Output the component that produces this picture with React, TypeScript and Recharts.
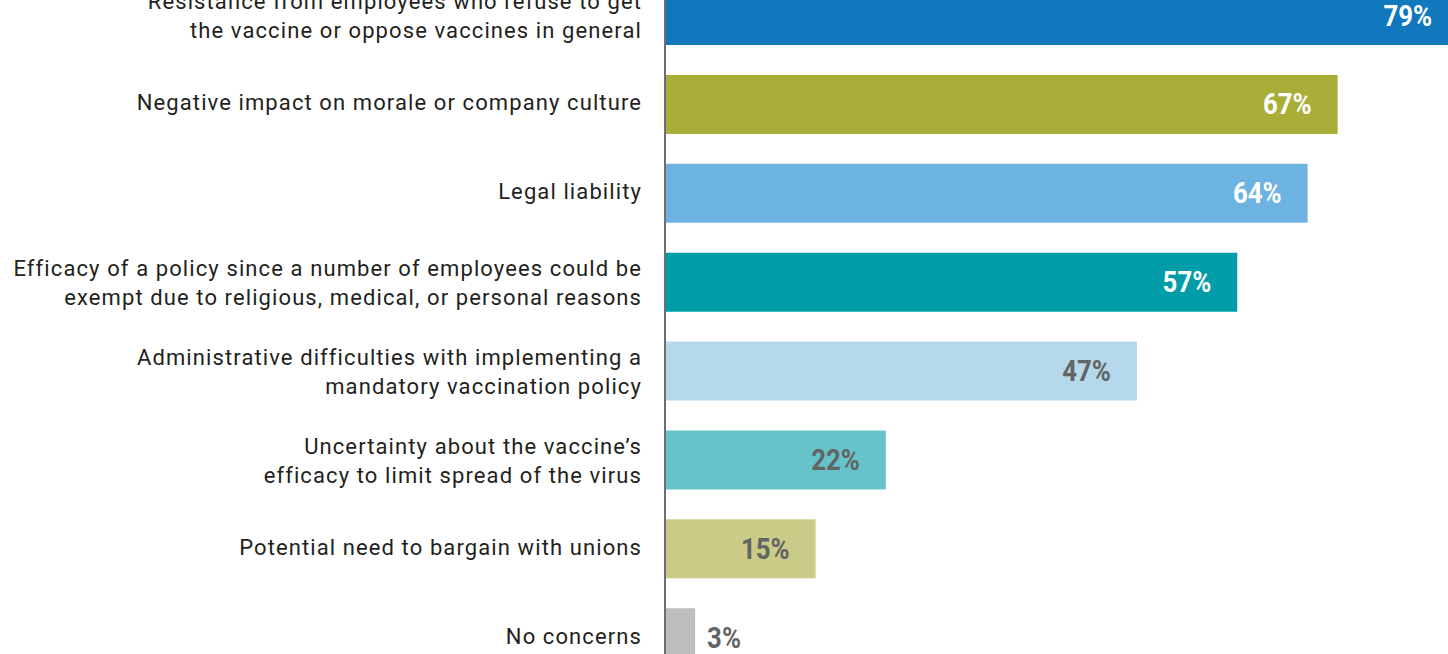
import { Bar, BarChart, Cell, LabelList, XAxis, YAxis } from "recharts";

// Concerns about a mandatory vaccination policy (% of respondents)
const categories = [
  "Resistance from employees who refuse to get the vaccine or oppose vaccines in general",
  "Negative impact on morale or company culture",
  "Legal liability",
  "Efficacy of a policy since a number of employees could be exempt due to religious, medical, or personal reasons",
  "Administrative difficulties with implementing a mandatory vaccination policy",
  "Uncertainty about the vaccine’s efficacy to limit spread of the virus",
  "Potential need to bargain with unions",
  "No concerns",
];

const labelLines = [
  ["Resistance from employees who refuse to get", "the vaccine or oppose vaccines in general"],
  ["Negative impact on morale or company culture"],
  ["Legal liability"],
  ["Efficacy of a policy since a number of employees could be", "exempt due to religious, medical, or personal reasons"],
  ["Administrative difficulties with implementing a", "mandatory vaccination policy"],
  ["Uncertainty about the vaccine’s", "efficacy to limit spread of the virus"],
  ["Potential need to bargain with unions"],
  ["No concerns"],
];

const values = [79, 67, 64, 57, 47, 22, 15, 3];

const BAR_COLORS = ["#1278be", "#a9ae38", "#6cb3e1", "#009ca8", "#b6d8eb", "#66c3c9", "#c9cb87", "#bcbdbf"];
const LABEL_COLORS = ["#ffffff", "#ffffff", "#ffffff", "#ffffff", "#636466", "#636466", "#636466", "#636466"];

const data = categories.map((name, i) => ({ name, value: values[i], idx: i }));

const TEXT_FONT = "Roboto, 'Noto Sans', sans-serif";

function CategoryTick(props: any) {
  const { x, y, index } = props;
  const lines = labelLines[index] || [];
  const first = lines.length > 1 ? -14 : -2;
  const tx = x - 23;
  return (
    <text x={tx} y={y} textAnchor="end" fontFamily={TEXT_FONT} fontSize={22} letterSpacing={1.1} fill="#231f20">
      {lines.map((line: string, i: number) => (
        <tspan key={i} x={tx} y={y + first + i * 29 + 8}>
          {line}
        </tspan>
      ))}
    </text>
  );
}

// bold condensed look: Roboto bold squeezed horizontally
function ValueLabel(props: any) {
  const { x, y, width, height, value, index } = props;
  const inside = value >= 10;
  const tx = inside ? x + width - 26 : x + width + 12;
  const ty = y + height / 2 + 10;
  return (
    <g transform={`translate(${tx},${ty}) scale(0.86,1)`}>
      <text
        x={0}
        y={0}
        textAnchor={inside ? "end" : "start"}
        fontFamily={TEXT_FONT}
        fontWeight={700}
        fontSize={30}
        fill={LABEL_COLORS[index]}
      >
        {value}%
      </text>
    </g>
  );
}

export default function App() {
  return (
    <div style={{ position: "absolute", left: 0, top: 0, width: 1448, height: 654, overflow: "hidden", background: "#fff" }}>
      <div style={{ position: "absolute", left: 0, top: -29 }}>
        <BarChart
          layout="vertical"
          width={1669}
          height={711}
          data={data}
          margin={{ top: 0, right: 0, bottom: 0, left: 0 }}
          barCategoryGap={0}
        >
          <XAxis type="number" domain={[0, 100]} hide />
          <YAxis
            type="category"
            dataKey="name"
            width={665}
            tickLine={false}
            tickSize={0}
            tickMargin={0}
            axisLine={{ stroke: "#6d6e71", strokeWidth: 2 }}
            tick={<CategoryTick />}
            interval={0}
          />
          <Bar dataKey="value" barSize={59} isAnimationActive={false}>
            {data.map((d) => (
              <Cell key={d.idx} fill={BAR_COLORS[d.idx]} />
            ))}
            <LabelList dataKey="value" content={<ValueLabel />} />
          </Bar>
        </BarChart>
      </div>
    </div>
  );
}
